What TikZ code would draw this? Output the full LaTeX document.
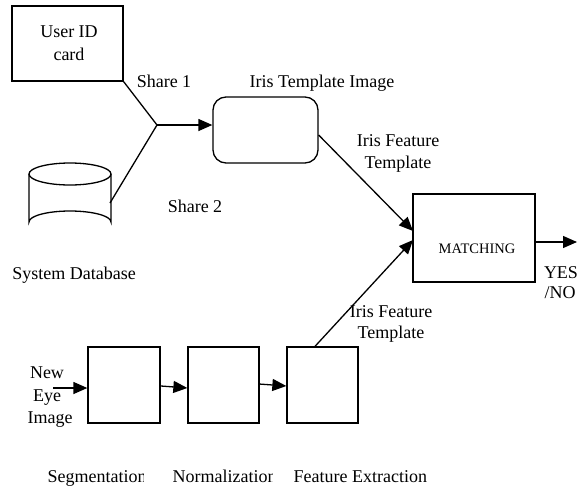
\documentclass[tikz,border=0pt]{standalone}
\usepackage{fontspec}
\setmainfont{Liberation Serif}
\usetikzlibrary{arrows.meta}
\begin{document}
\begin{tikzpicture}[x=1pt,y=-1pt,
  line width=1.3pt,
  lbl/.style={font=\fontsize{18}{20}\selectfont, inner sep=0pt, anchor=base},
  blk/.style={draw, rectangle, inner sep=0pt},
  arr/.style={-{Triangle[length=14pt,width=12pt]}}]
\useasboundingbox (0,0) rectangle (579,488);

% input sources
\node[blk, minimum width=111, minimum height=75] (card) at (67.5,43.5) {};
\node[lbl] at (69,37) {User ID};
\node[lbl] at (69,60) {card};
\node[lbl] at (164,87) {Share 1};
\node[lbl] at (195,212) {Share 2};

% database cylinder
\draw (29,174) -- (29,222) arc[start angle=180,end angle=360,x radius=41,y radius=11] -- (111,174);
\draw (70,174) ellipse[x radius=41,y radius=11];
\coordinate (db) at (110,203);
\node[lbl] at (74,279) {System Database};

% combining the shares
\coordinate (join) at (157,125);
\draw (card.south east) -- (join);
\draw (db) -- (join);

% template branch
\node[blk, rounded corners=13pt, minimum width=105, minimum height=66] (tmpl) at (265.5,130) {};
\node[lbl] at (322,87) {Iris Template Image};
\draw[arr] (join) -- (tmpl.west |- join);
\node[lbl] at (398,146) {Iris Feature};
\node[lbl] at (398,168) {Template};

% matching
\node[blk, minimum width=122, minimum height=88] (match) at (474,238) {};
\node[font=\fontsize{14.5}{16}\selectfont, inner sep=0pt, anchor=base] at (477,253) {MATCHING};
\coordinate (out) at (577,242);
\draw[arr] (match.east |- out) -- (out);
\node[lbl] at (561,278) {YES};
\node[lbl] at (560,298) {/NO};

\coordinate (in1) at (413,231);
\coordinate (in2) at (413,240);
\draw[arr] (tmpl.east |- 0,135) -- (in1);

% processing chain
\node[blk, minimum width=72, minimum height=76] (seg) at (124,385) {};
\node[blk, minimum width=71, minimum height=76] (norm) at (223.5,385) {};
\node[blk, minimum width=71, minimum height=76] (feat) at (322.5,385) {};
\coordinate (eye) at (53,388);
\draw[arr] (eye) -- (seg.west |- eye);
\draw[arr] (161,386) -- (norm.west |- 0,388);
\draw[arr] (259,384) -- (feat.west |- 0,386);
\draw[arr] (feat.north -| 315,0) -- (in2);

\node[lbl] at (47,378) {New};
\node[lbl] at (47,401) {Eye};
\node[lbl] at (50,423) {Image};
\node[lbl] at (391,317) {Iris Feature};
\node[lbl] at (391,338) {Template};

% stage captions
\begin{scope}
  \clip (40,455) rectangle (143,488);
  \node[lbl, anchor=base west] at (47,482) {Segmentation};
\end{scope}
\begin{scope}
  \clip (165,455) rectangle (272,488);
  \node[lbl, anchor=base west] at (172,482) {Normalization};
\end{scope}
\node[lbl, anchor=base west] at (293,482) {Feature Extraction};
\end{tikzpicture}
\end{document}
